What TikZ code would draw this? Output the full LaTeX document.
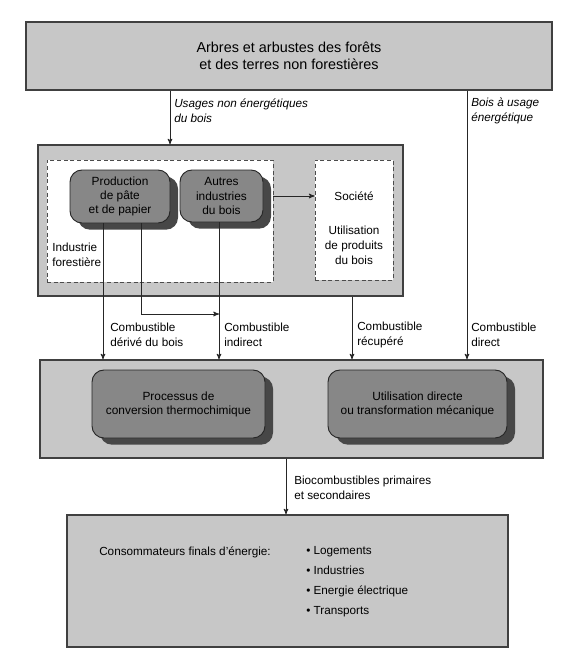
\documentclass[tikz,border=0pt]{standalone}
\usepackage{fontspec}
\setmainfont{Liberation Sans}
\usetikzlibrary{arrows,shadows}

\begin{document}
\begin{tikzpicture}[>=stealth',x=0.75pt,y=-0.75pt,
    frame/.style={draw=black!75,line width=0.9pt,fill=black!22,inner sep=0pt},
    dashbox/.style={draw=black!70,line width=0.7pt,dash pattern=on 3pt off 2pt,fill=white,inner sep=0pt},
    proc/.style={draw=black!85,line width=0.7pt,fill=black!47,rounded corners=9pt,align=center,
        font=\fontsize{8.9}{10.6}\selectfont,inner sep=1pt,
        drop shadow={shadow xshift=6pt,shadow yshift=-5pt,fill=black!72,opacity=1}},
    lbl/.style={font=\fontsize{8.8}{11.2}\selectfont,align=left,inner sep=0pt},
    ilbl/.style={lbl,font=\fontsize{8.8}{11.2}\selectfont\itshape},
    flow/.style={->,line width=0.6pt,draw=black!85}]
    \useasboundingbox (0,0) rectangle (576,672);

    % boites
    \node[frame,minimum width=394.5pt,minimum height=51pt,align=center,
        font=\fontsize{10.8}{12.5}\selectfont] (arbres) at (289,56)
        {Arbres et arbustes des forêts\\et des terres non forestières};
    \node[frame,minimum width=273.75pt,minimum height=113.25pt] (ind) at (220.5,220.5) {};
    \node[dashbox,minimum width=169.5pt,minimum height=91.5pt] (forest) at (160,221) {};
    \node[dashbox,minimum width=58.5pt,minimum height=90pt] (soc) at (354,220) {};
    \node[proc,minimum width=75pt,minimum height=39.75pt] (pate) at (120,196.5) {Production\\de pâte\\et de papier};
    \node[proc,minimum width=62.25pt,minimum height=39pt] (autres) at (221.5,196) {Autres\\industries\\du bois};
    \node[frame,minimum width=377.25pt,minimum height=73.5pt] (usage) at (291.5,409) {};
    \node[proc,minimum width=129.75pt,minimum height=51pt] (thermo) at (178.5,404) {Processus de\\conversion thermochimique};
    \node[proc,minimum width=134.25pt,minimum height=51pt] (meca) at (417.5,404) {Utilisation directe\\ou transformation mécanique};
    \node[frame,minimum width=330.75pt,minimum height=99pt] (conso) at (287.5,581) {};

    % textes
    \node[lbl,anchor=west] (lforest) at (52,255) {Industrie\\forestière};
    \node[lbl,align=center] (lsoc) at (354,196) {Société};
    \node[lbl,align=center] (lutil) at (354,245) {Utilisation\\de produits\\du bois};
    \node[ilbl,anchor=west] (lnon) at (174,110.5) {Usages non énergétiques\\du bois};
    \node[ilbl,anchor=west] (lener) at (471,110.5) {Bois à usage\\énergétique};
    \node[lbl,anchor=west] (lderive) at (110,334.5) {Combustible\\dérivé du bois};
    \node[lbl,anchor=west] (lindir) at (224,334.5) {Combustible\\indirect};
    \node[lbl,anchor=west] (lrecup) at (357,334.5) {Combustible\\récupéré};
    \node[lbl,anchor=west] (ldirect) at (471,334.5) {Combustible\\direct};
    \node[lbl,anchor=west] (lbio) at (294,487.5) {Biocombustibles primaires\\et secondaires};
    \node[lbl,anchor=west] (lconso) at (99,552) {Consommateurs finals d'énergie:};
    \node[lbl,anchor=west,font=\fontsize{8.8}{15}\selectfont] (lliste) at (306,582)
        {\textbullet\ Logements\\\textbullet\ Industries\\\textbullet\ Energie électrique\\\textbullet\ Transports};

    % fleches
    \coordinate (xnon) at (170,0);
    \coordinate (xener) at (467,0);
    \coordinate (xderive) at (103,0);
    \coordinate (xindir) at (141,0);
    \coordinate (coude) at (219,314);
    \coordinate (xrecup) at (352,0);
    \coordinate (xbio) at (286,0);

    \draw[flow] (arbres.south -| xnon) -- (ind.north -| xnon);
    \draw[flow] (arbres.south -| xener) -- (usage.north -| xener);
    \draw[flow] (forest.east |- autres) -- (soc.west |- autres);
    \draw[flow] (pate.south -| xderive) -- (usage.north -| xderive);
    \draw[flow] (pate.south -| xindir) |- (coude);
    \draw[flow] (autres.south -| coude) -- (usage.north -| coude);
    \draw[flow] (ind.south -| xrecup) -- (usage.north -| xrecup);
    \draw[flow] (usage.south -| xbio) -- (conso.north -| xbio);
\end{tikzpicture}
\end{document}
